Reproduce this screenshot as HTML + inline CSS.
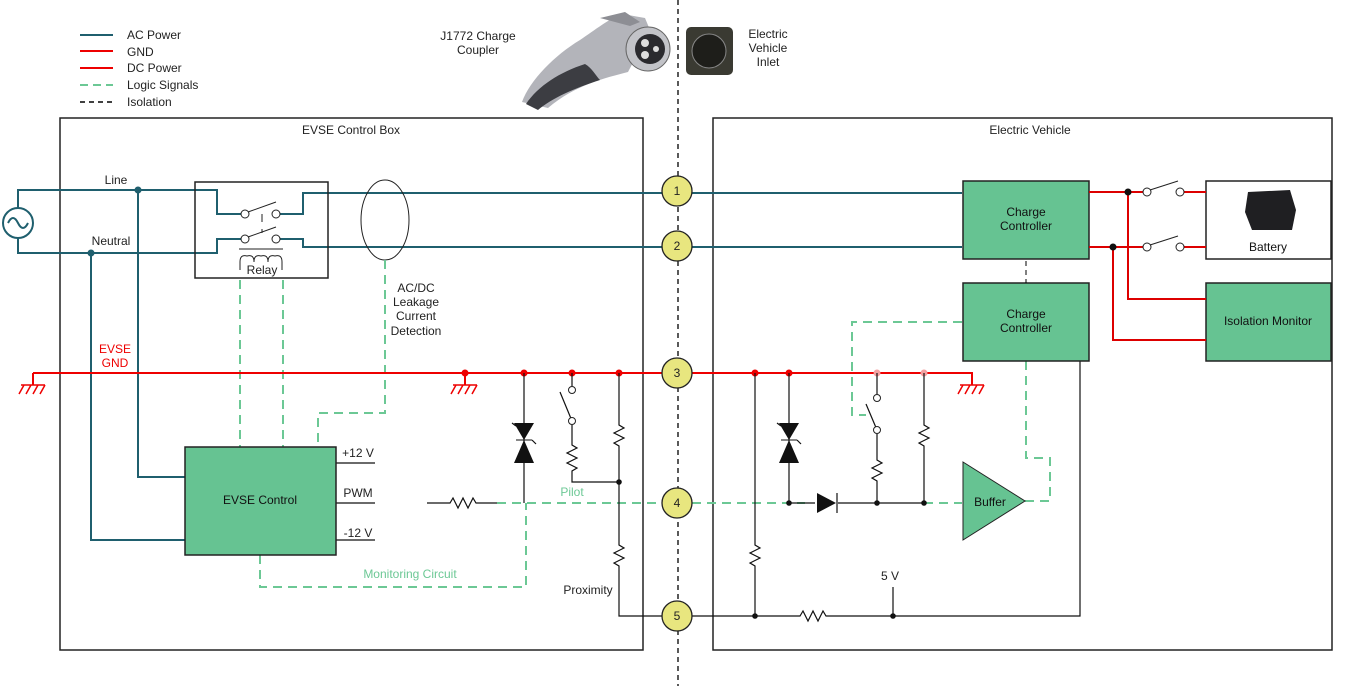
<!DOCTYPE html>
<html><head><style>body{margin:0;background:#fff}svg{display:block;font-family:"Liberation Sans",sans-serif}</style></head><body>
<svg width="1348" height="686" viewBox="0 0 1348 686" xmlns="http://www.w3.org/2000/svg">
<g font-size="12" fill="#222">
<line x1="80" y1="35" x2="113" y2="35" stroke="#1f5f6e" stroke-width="2"/><text x="127" y="39">AC Power</text>
<line x1="80" y1="51" x2="113" y2="51" stroke="#e00" stroke-width="2"/><text x="127" y="56">GND</text>
<line x1="80" y1="68" x2="113" y2="68" stroke="#e00" stroke-width="2"/><text x="127" y="72">DC Power</text>
<line x1="80" y1="85" x2="113" y2="85" stroke="#6cc895" stroke-width="2" stroke-dasharray="8,5"/><text x="127" y="89">Logic Signals</text>
<line x1="80" y1="102" x2="113" y2="102" stroke="#000" stroke-width="1.5" stroke-dasharray="5,4"/><text x="127" y="106">Isolation</text>
<text x="478" y="40" text-anchor="middle">J1772 Charge</text><text x="478" y="54" text-anchor="middle">Coupler</text>
<text x="768" y="38" text-anchor="middle">Electric</text><text x="768" y="52" text-anchor="middle">Vehicle</text><text x="768" y="66" text-anchor="middle">Inlet</text>
</g>
<!-- plug -->
<path d="M522,102 C530,80 555,55 580,40 C595,30 610,18 622,14 L645,18 L650,30 L628,72 C605,78 575,85 548,108 Z" fill="#b3b4ba"/>
<path d="M526,104 C538,86 560,72 585,64 C592,68 596,76 600,80 C575,88 552,98 538,110 Z" fill="#3c3d42"/>
<path d="M600,18 L625,12 L640,22 L630,26 Z" fill="#8d8e94"/>
<circle cx="648" cy="49" r="22" fill="#c2c3c8" stroke="#666"/><circle cx="650" cy="49" r="15" fill="#2a2a2e"/>
<circle cx="645" cy="43" r="4" fill="#ddd"/><circle cx="645" cy="55" r="4" fill="#ddd"/><circle cx="656" cy="49" r="3" fill="#ddd"/>
<rect x="686" y="27" width="47" height="48" rx="5" fill="#3a3a32"/><circle cx="709" cy="51" r="17" fill="#1e1e1a" stroke="#888"/>
<line x1="678" y1="0" x2="678" y2="686" stroke="#000" stroke-width="1.3" stroke-dasharray="5,4"/>
<!-- boxes -->
<rect x="60" y="118" width="583" height="532" fill="none" stroke="#222" stroke-width="1.5"/>
<rect x="713" y="118" width="619" height="532" fill="none" stroke="#222" stroke-width="1.5"/>
<g font-size="12" fill="#222" text-anchor="middle">
<text x="351" y="134">EVSE Control Box</text><text x="1030" y="134">Electric Vehicle</text>
<text x="116" y="184">Line</text><text x="111" y="245">Neutral</text>
<text x="416" y="292">AC/DC</text><text x="416" y="306">Leakage</text><text x="416" y="320">Current</text><text x="416" y="335">Detection</text>
<text x="358" y="457">+12 V</text><text x="358" y="497">PWM</text><text x="358" y="537">-12 V</text>
<text x="588" y="594">Proximity</text><text x="890" y="580">5 V</text>
</g>
<g font-size="12" fill="#e00" text-anchor="middle"><text x="115" y="353">EVSE</text><text x="115" y="367">GND</text></g>
<g font-size="12" fill="#6cc895" text-anchor="middle"><text x="572" y="496">Pilot</text><text x="410" y="578">Monitoring Circuit</text></g>
<!-- AC -->
<g fill="none" stroke="#1f5f6e" stroke-width="2">
<circle cx="18" cy="223" r="15"/>
<path d="M8,223 q5,-10 10,0 t10,0"/>
<path d="M18,208 V190 H217 V214 H241"/><path d="M18,238 V253 H217 V239 H241"/>
<path d="M280,214 H303 V193 H962"/><path d="M280,239 H303 V247 H962"/>
<path d="M138,190 V477 H185"/><path d="M91,253 V540 H185"/>
</g>
<circle cx="138" cy="190" r="3.5" fill="#1f5f6e"/><circle cx="91" cy="253" r="3.5" fill="#1f5f6e"/>
<!-- relay -->
<rect x="195" y="182" width="133" height="96" fill="none" stroke="#222" stroke-width="1.5"/>
<g fill="#fff" stroke="#222" stroke-width="1"><circle cx="245" cy="214" r="4"/><circle cx="276" cy="214" r="4"/><circle cx="245" cy="239" r="4"/><circle cx="276" cy="239" r="4"/></g>
<g stroke="#222" fill="none"><path d="M248,212 L276,202 M248,237 L276,227 M262,214 V222 M262,229 V233"/>
<path d="M239,249 H283 M240,270 V262 q0,-8 7,-6 q7,-2 7,6 q0,-8 7,-6 q7,-2 7,6 q0,-8 7,-6 q7,-2 7,6 V270"/></g>
<text x="262" y="274" font-size="12" text-anchor="middle" fill="#222">Relay</text>
<ellipse cx="385" cy="220" rx="24" ry="40" fill="none" stroke="#222"/>
<!-- logic dashed -->
<g fill="none" stroke="#6cc895" stroke-width="2" stroke-dasharray="9,6">
<path d="M240,280 V447"/><path d="M283,280 V447"/><path d="M385,260 V413 H318 V447"/>
<path d="M260,555 V587 H526 V503"/><path d="M497,503 H662"/><path d="M692,503 H805"/><path d="M924,503 H962"/>
<path d="M962,322 H852 V415 H866"/><path d="M1026,361 V458 H1050 V501 H1025"/>
</g>
<!-- GND -->
<g fill="none" stroke="#e00" stroke-width="2">
<path d="M33,373 H662 M692,373 H972 V385"/><path d="M33,373 V385 M465,373 V385"/>
</g>
<g stroke="#e00" stroke-width="1.5">
<path d="M21,385 H45 M24,385 l-5,9 M31,385 l-5,9 M38,385 l-5,9 M45,385 l-5,9"/>
<path d="M453,385 H477 M456,385 l-5,9 M463,385 l-5,9 M470,385 l-5,9 M477,385 l-5,9"/>
<path d="M960,385 H984 M963,385 l-5,9 M970,385 l-5,9 M977,385 l-5,9 M984,385 l-5,9"/>
</g>
<g fill="#e00"><circle cx="465" cy="373" r="3.5"/><circle cx="524" cy="373" r="3.5"/><circle cx="572" cy="373" r="3.5"/><circle cx="619" cy="373" r="3.5"/><circle cx="755" cy="373" r="3.5"/><circle cx="789" cy="373" r="3.5"/></g>
<g fill="#f4a0a0"><circle cx="877" cy="373" r="3.5"/><circle cx="924" cy="373" r="3.5"/></g>
<!-- black circuitry -->
<g fill="none" stroke="#111" stroke-width="1.2">
<path d="M336,463 H375 M336,503 H375 M336,540 H375"/>
<path d="M427,503 H450 l3,-5 l5,10 l5,-10 l5,10 l5,-10 l3,5 H497"/>
<path d="M524,373 V503"/><path d="M516,426 l-4,-3 M532,440 l4,4"/>
<path d="M572,373 V386 M572,425 V445 l5,3 l-10,5 l10,5 l-10,5 l10,5 l-5,3 V482 H619"/><path d="M572,421 L560,392"/>
<path d="M619,373 V425 l5,3 l-10,5 l10,5 l-10,5 l5,3 V545 l5,3 l-10,5 l10,5 l-10,5 l5,3 V616 H662"/>
<path d="M692,616 H800 l3,-5 l5,10 l5,-10 l5,10 l5,-10 l3,5 H1080 V361"/>
<path d="M755,373 V545 l5,3 l-10,5 l10,5 l-10,5 l5,3 V616"/>
<path d="M789,373 V503 H815 M838,503 H924"/><path d="M781,426 l-4,-3 M797,440 l4,4"/>
<path d="M877,373 V394 M877,434 V460 l5,3 l-10,5 l10,5 l-10,5 l5,3 V503"/><path d="M877,430 L866,404"/>
<path d="M924,373 V425 l5,3 l-10,5 l10,5 l-10,5 l5,3 V503"/>
<path d="M893,616 V587"/>
<path d="M837,493 V513"/>
</g>
<g fill="#111"><path d="M514,423 H534 L524,440 Z M514,463 H534 L524,440 Z"/><path d="M779,423 H799 L789,440 Z M779,463 H799 L789,440 Z"/>
<path d="M817,493 L836,503 L817,513 Z"/>
<circle cx="619" cy="482" r="2.8"/><circle cx="789" cy="503" r="2.8"/><circle cx="877" cy="503" r="2.8"/><circle cx="924" cy="503" r="2.8"/><circle cx="755" cy="616" r="2.8"/><circle cx="893" cy="616" r="2.8"/></g>
<path d="M516,440 H532 M781,440 H797" stroke="#111"/>
<g fill="#fff" stroke="#222"><circle cx="572" cy="390" r="3.5"/><circle cx="572" cy="421" r="3.5"/><circle cx="877" cy="398" r="3.5"/><circle cx="877" cy="430" r="3.5"/></g>
<!-- connector pins -->
<g fill="#e8e67f" stroke="#222" stroke-width="1.3">
<circle cx="677" cy="191" r="15"/><circle cx="677" cy="246" r="15"/><circle cx="677" cy="373" r="15"/><circle cx="677" cy="503" r="15"/><circle cx="677" cy="616" r="15"/></g>
<g font-size="12" text-anchor="middle" fill="#222"><text x="677" y="195">1</text><text x="677" y="250">2</text><text x="677" y="377">3</text><text x="677" y="507">4</text><text x="677" y="620">5</text></g>
<!-- green blocks -->
<g fill="#66c392" stroke="#222" stroke-width="1.5">
<rect x="185" y="447" width="151" height="108"/>
<rect x="963" y="181" width="126" height="78"/><rect x="963" y="283" width="126" height="78"/>
<rect x="1206" y="283" width="125" height="78"/>
<path d="M963,462 L1025,501 L963,540 Z" stroke-width="1"/>
</g>
<line x1="1026" y1="261" x2="1026" y2="283" stroke="#000" stroke-dasharray="5,4"/>
<rect x="1206" y="181" width="125" height="78" fill="#fff" stroke="#222" stroke-width="1.5"/>
<path d="M1248,192 L1290,190 L1296,210 L1292,230 L1252,230 L1245,212 Z" fill="#1f1f22"/>
<g font-size="12" text-anchor="middle" fill="#111">
<text x="260" y="504">EVSE Control</text>
<text x="1026" y="216">Charge</text><text x="1026" y="230">Controller</text>
<text x="1026" y="318">Charge</text><text x="1026" y="332">Controller</text>
<text x="1268" y="325">Isolation Monitor</text><text x="1268" y="251">Battery</text>
<text x="990" y="506">Buffer</text></g>
<!-- DC -->
<g fill="none" stroke="#d00" stroke-width="2">
<path d="M1089,192 H1143 M1184,192 H1206"/><path d="M1089,247 H1143 M1184,247 H1206"/>
<path d="M1128,192 V299 H1206"/><path d="M1113,247 V340 H1206"/>
</g>
<g fill="#111"><circle cx="1128" cy="192" r="3.5"/><circle cx="1113" cy="247" r="3.5"/></g>
<g fill="#fff" stroke="#222"><circle cx="1147" cy="192" r="4"/><circle cx="1180" cy="192" r="4"/><circle cx="1147" cy="247" r="4"/><circle cx="1180" cy="247" r="4"/></g>
<path d="M1150,190 L1178,181 M1150,245 L1178,236" stroke="#222"/>
</svg>
</body></html>
